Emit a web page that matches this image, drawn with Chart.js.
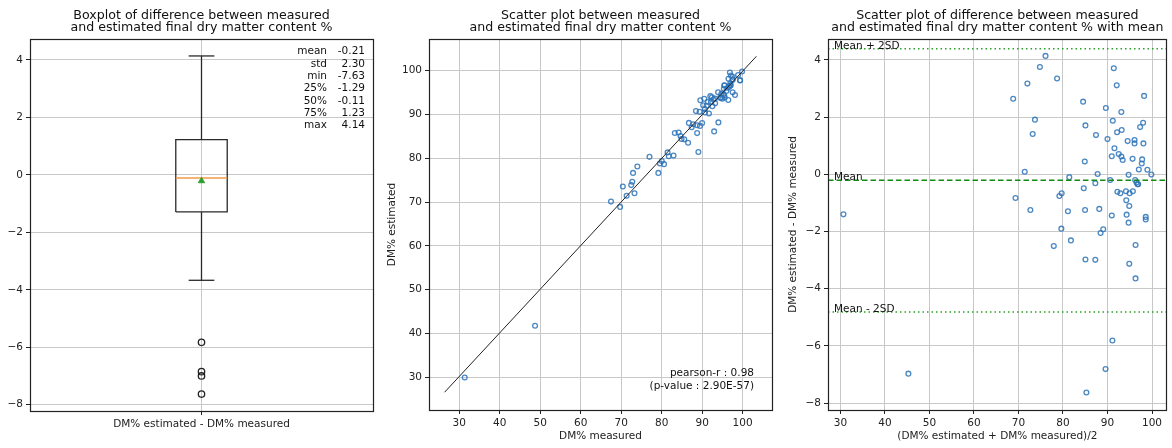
<!DOCTYPE html>
<html>
<head>
<meta charset="utf-8">
<script src="https://cdn.jsdelivr.net/npm/chart.js@4.4.1/dist/chart.umd.min.js"></script>
<style>
  html, body { margin: 0; padding: 0; background: #fff; }
  #wrap { position: relative; width: 1172px; height: 448px; overflow: hidden; }
  canvas { position: absolute; top: 0; }
</style>
</head>
<body>
<div id="wrap">
  <canvas id="boxChart" width="390" height="448" style="left:0px"></canvas>
  <canvas id="scatterChart" width="400" height="448" style="left:380px"></canvas>
  <canvas id="diffChart" width="397" height="448" style="left:775px"></canvas>
</div>
<script>
// values
// (DM% estimated + DM% measured)/2
const avgValues = [30.67, 45.26, 68.81, 69.33, 71.40, 72.00, 72.67, 73.19, 73.70, 74.81,
  76.07, 77.93, 78.67, 79.19, 79.70, 79.63, 81.11, 81.41, 81.78, 84.52,
  84.67, 84.89, 85.04, 84.96, 85.04, 85.26, 87.26, 87.26, 87.41, 87.78,
  88.15, 88.44, 89.04, 89.63, 89.56, 90.00, 90.59, 90.96, 90.96, 91.19,
  91.11, 91.41, 91.56, 92.07, 92.15, 92.22, 92.52, 92.89, 93.11, 93.11,
  93.19, 93.41, 94.15, 94.22, 94.30, 94.52, 94.74, 94.74, 94.89, 94.89,
  94.96, 95.70, 95.63, 96.07, 96.07, 96.22, 96.30, 96.30, 96.52, 96.74,
  96.89, 97.04, 97.33, 97.70, 97.78, 98.00, 98.07, 98.22, 98.59, 98.59,
  98.96, 99.85];
// DM% estimated - DM% measured
const diffValues = [-1.40, -6.97, 2.64, -0.83, 0.09, 3.17, -1.25, 1.41, 1.91, 3.75,
  4.14, -2.51, 3.35, -0.76, -0.66, -1.90, -1.29, -0.10, -2.31, 2.54,
  -0.49, 0.45, 1.71, -1.25, -2.98, -7.63, -0.31, -2.99, 1.37, 0.01,
  -1.21, -2.05, -1.92, 2.32, -6.81, 1.23, -0.20, 0.63, -1.44, 1.87,
  -5.81, 3.71, 0.91, 3.11, 1.47, -0.61, 0.71, -0.66, 2.18, 0.62,
  1.55, 0.50, -0.59, -0.91, -1.41, 1.16, -0.02, -1.69, -1.11, -3.13,
  -0.66, -0.59, 0.54, 1.20, 1.08, -0.20, -2.47, -3.64, -0.29, -0.35,
  -0.35, 0.17, 1.65, 0.38, 0.52, 1.80, 1.08, 2.74, -1.49, -1.58,
  0.16, -0.01];

// measured / estimated recovered from the same points
const measured = avgValues.map((m, i) => m - diffValues[i] / 2);
const estimated = avgValues.map((m, i) => m + diffValues[i] / 2);

const statLabels = ['mean', 'std', 'min', '25%', '50%', '75%', 'max'];
const statValues = [-0.21, 2.30, -7.63, -1.29, -0.11, 1.23, 4.14];
const whiskers = [-3.67, 4.14];
const outliers = [-5.83, -6.85, -7.00, -7.63];
const boxCategory = 'DM% estimated - DM% measured';

const fitX = [26.4, 103.4];
const fitY = [26.6, 103.3];
const pearsonText = ['pearson-r : 0.98', '(p-value : 2.90E-57)'];

Chart.defaults.font.family = "'DejaVu Sans', sans-serif";
Chart.defaults.font.size = 10.5;
Chart.defaults.color = '#222';
Chart.defaults.animation = false;

const GRID = '#c8c8c8';
const BLUE = 'rgba(45,115,185,0.85)';
const FS = 10.5;

function minusFmt(v) {
  return v < 0 ? '\u2212' + Math.abs(v) : String(v);
}

function axis(pos, min, max, size, extra) {
  const a = {
    type: 'linear', position: pos, min: min, max: max,
    grid: { color: GRID, lineWidth: 1, tickColor: '#222', tickLength: 4 },
    border: { display: false },
    ticks: { color: '#222', padding: 3, stepSize: 10, includeBounds: false, maxRotation: 0, font: { size: FS } },
    afterFit: s => { if (pos === 'left') s.width = size; else s.height = size; }
  };
  if (extra && extra.ticks) Object.assign(a.ticks, extra.ticks);
  if (extra && extra.title) a.title = extra.title;
  if (extra && extra.afterBuildTicks) a.afterBuildTicks = extra.afterBuildTicks;
  return a;
}

function px(v) { return Math.round(v - 0.5) + 0.5; }

function decor(titleLines, extraDraw) {
  return {
    id: 'decor',
    afterDraw(chart) {
      const a = chart.chartArea, c = chart.ctx;
      c.save();
      c.strokeStyle = '#222';
      c.lineWidth = 1.2;
      c.strokeRect(px(a.left), px(a.top), px(a.right) - px(a.left), px(a.bottom) - px(a.top));
      c.font = "12.6px 'DejaVu Sans'";
      c.fillStyle = '#111';
      c.textAlign = 'center';
      c.textBaseline = 'middle';
      const cx = (a.left + a.right) / 2;
      titleLines.forEach((t, i) => c.fillText(t, cx, 15.5 + i * 12.4));
      if (extraDraw) extraDraw(chart, c, a);
      c.restore();
    }
  };
}

// ---- panel 1: boxplot
const BOX_X = 1, BOX_W = 0.15;
const hw = BOX_W / 2;
const q1 = statValues[3], med = statValues[4], q3 = statValues[5], mean = statValues[0];
const BOXLINE = { showLine: true, borderColor: '#2a2a2a', borderWidth: 1.3, pointRadius: 0 };

new Chart(document.getElementById('boxChart'), {
  type: 'scatter',
  data: {
    datasets: [
      { data: [{ x: BOX_X, y: mean }], pointStyle: 'triangle', pointRadius: 3.6,
        backgroundColor: '#2ca02c', borderColor: '#2ca02c', borderWidth: 1 },
      { data: [{ x: BOX_X - hw, y: med }, { x: BOX_X + hw, y: med }], showLine: true,
        borderColor: '#f59a45', borderWidth: 1.5, pointRadius: 0 },
      Object.assign({ data: [{ x: BOX_X - hw, y: q1 }, { x: BOX_X + hw, y: q1 }, { x: BOX_X + hw, y: q3 },
               { x: BOX_X - hw, y: q3 }, { x: BOX_X - hw, y: q1 }] }, BOXLINE),
      Object.assign({ data: [{ x: BOX_X, y: q1 }, { x: BOX_X, y: whiskers[0] }] }, BOXLINE),
      Object.assign({ data: [{ x: BOX_X, y: q3 }, { x: BOX_X, y: whiskers[1] }] }, BOXLINE),
      Object.assign({ data: [{ x: BOX_X - hw / 2, y: whiskers[0] }, { x: BOX_X + hw / 2, y: whiskers[0] }] }, BOXLINE),
      Object.assign({ data: [{ x: BOX_X - hw / 2, y: whiskers[1] }, { x: BOX_X + hw / 2, y: whiskers[1] }] }, BOXLINE),
      { data: outliers.map(v => ({ x: BOX_X, y: v })), pointStyle: 'circle', pointRadius: 3.2,
        backgroundColor: 'rgba(0,0,0,0)', borderColor: '#222', borderWidth: 1.3 }
    ]
  },
  options: {
    responsive: false,
    layout: { padding: { left: 0, top: 39, right: 17, bottom: 0 } },
    plugins: { legend: { display: false }, tooltip: { enabled: false } },
    scales: {
      x: axis('bottom', 0.5, 1.5, 37, {
        afterBuildTicks: s => { s.ticks = [{ value: BOX_X }]; },
        ticks: { callback: () => boxCategory }
      }),
      y: axis('left', -8.22, 4.73, 30, { ticks: { stepSize: 2, callback: minusFmt } })
    }
  },
  plugins: [decor(['Boxplot of difference between measured', 'and estimated final dry matter content %'],
    (chart, c, a) => {
      c.font = FS + "px 'DejaVu Sans'";
      c.fillStyle = '#111';
      c.textAlign = 'right';
      statLabels.forEach((l, i) => {
        const y = a.top + 12.7 + i * 12.27;
        c.fillText(l, a.right - 46, y);
        c.fillText(statValues[i].toFixed(2), a.right - 8, y);
      });
    })]
});

// ---- panel 2: measured vs estimated
new Chart(document.getElementById('scatterChart'), {
  type: 'scatter',
  data: {
    datasets: [
      { data: fitX.map((x, i) => ({ x: x, y: fitY[i] })), showLine: true,
        borderColor: '#222', borderWidth: 1, pointRadius: 0 },
      { data: measured.map((m, i) => ({ x: m, y: estimated[i] })), pointStyle: 'circle',
        pointRadius: 2.4, borderWidth: 1.3, borderColor: BLUE, backgroundColor: 'rgba(0,0,0,0)' }
    ]
  },
  options: {
    responsive: false,
    layout: { padding: { left: 0, top: 39, right: 8, bottom: 0 } },
    plugins: { legend: { display: false }, tooltip: { enabled: false } },
    scales: {
      x: axis('bottom', 22.55, 107.25, 38, {
        title: { display: true, text: 'DM% measured', color: '#222', font: { size: FS }, padding: { top: 0, bottom: 5.5 } }
      }),
      y: axis('left', 22.55, 107.25, 49, {
        title: { display: true, text: 'DM% estimated', color: '#222', font: { size: FS }, padding: { top: 5.5, bottom: 0 } }
      })
    }
  },
  plugins: [decor(['Scatter plot between measured', 'and estimated final dry matter content %'],
    (chart, c, a) => {
      c.font = FS + "px 'DejaVu Sans'";
      c.fillStyle = '#111';
      c.textAlign = 'right';
      c.fillText(pearsonText[0], a.right - 18, a.bottom - 37);
      c.fillText(pearsonText[1], a.right - 18, a.bottom - 24);
    })]
});

// ---- panel 3: difference vs average
const sd = statValues[1];
const refLines = [
  { value: mean + 2 * sd, label: 'Mean + 2SD', dash: [1.5, 3], color: '#2ca02c', width: 1.5 },
  { value: mean, label: 'Mean', dash: [5.5, 3], color: '#138a13', width: 1.6 },
  { value: mean - 2 * sd, label: 'Mean - 2SD', dash: [1.5, 3], color: '#2ca02c', width: 1.5 }
];

new Chart(document.getElementById('diffChart'), {
  type: 'scatter',
  data: {
    datasets: [
      { data: avgValues.map((m, i) => ({ x: m, y: diffValues[i] })), pointStyle: 'circle',
        pointRadius: 2.4, borderWidth: 1.3, borderColor: BLUE, backgroundColor: 'rgba(0,0,0,0)' }
    ]
  },
  options: {
    responsive: false,
    layout: { padding: { left: 0, top: 39, right: 2, bottom: 0 } },
    plugins: { legend: { display: false }, tooltip: { enabled: false } },
    scales: {
      x: axis('bottom', 27.2, 103.3, 38, {
        title: { display: true, text: '(DM% estimated + DM% measured)/2', color: '#222', font: { size: FS }, padding: { top: 0, bottom: 5 } }
      }),
      y: axis('left', -8.24, 4.73, 53, {
        ticks: { stepSize: 2, callback: minusFmt },
        title: { display: true, text: 'DM% estimated - DM% measured', color: '#222', font: { size: FS }, padding: { top: 12, bottom: 0 } }
      })
    }
  },
  plugins: [{
    id: 'refLines',
    afterDatasetsDraw(chart) {
      const a = chart.chartArea, c = chart.ctx, y = chart.scales.y;
      c.save();
      refLines.forEach(r => {
        const py = y.getPixelForValue(r.value);
        c.strokeStyle = r.color;
        c.lineWidth = r.width;
        c.setLineDash(r.dash);
        c.beginPath();
        c.moveTo(a.left, py);
        c.lineTo(a.right, py);
        c.stroke();
        c.setLineDash([]);
        c.font = FS + "px 'DejaVu Sans'";
        c.fillStyle = '#111';
        c.textAlign = 'left';
        c.textBaseline = 'alphabetic';
        c.fillText(r.label, a.left + 6, py);
      });
      c.restore();
    }
  }, decor(['Scatter plot of difference between measured', 'and estimated final dry matter content % with mean'])]
});
</script>
</body>
</html>
